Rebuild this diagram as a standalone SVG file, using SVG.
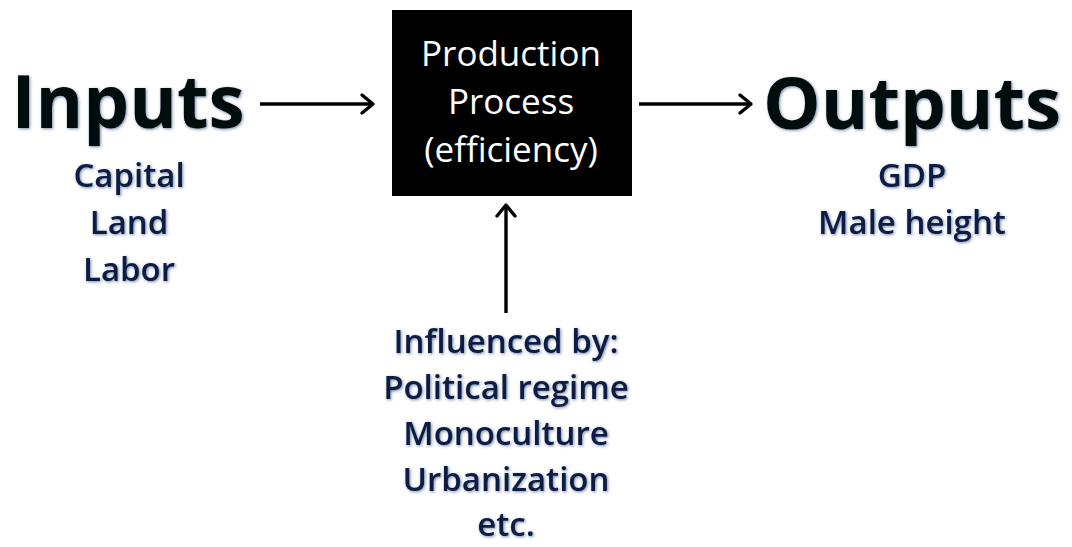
<svg xmlns="http://www.w3.org/2000/svg" width="1072" height="547" viewBox="0 0 1072 547">
  <defs>
    <filter id="glow" x="-10%" y="-20%" width="120%" height="140%">
      <feGaussianBlur in="SourceAlpha" stdDeviation="1.4" result="b"/>
      <feFlood flood-color="#1f3864" flood-opacity="0.6"/>
      <feComposite in2="b" operator="in" result="s"/>
      <feOffset dx="1" dy="1" result="o"/>
      <feMerge><feMergeNode in="o"/><feMergeNode in="SourceGraphic"/></feMerge>
    </filter>
    <marker id="arrow" markerUnits="userSpaceOnUse" markerWidth="20" markerHeight="24" refX="14" refY="12" orient="auto">
      <path d="M3,3 L14,12 L3,21" fill="none" stroke="#000" stroke-width="3.4" stroke-linecap="round" stroke-linejoin="round"/>
    </marker>
  </defs>
  <style>
    .big { font-family: "Open Sans", "Liberation Sans", sans-serif; font-weight: 700; fill: #05070f; text-anchor: middle; }
    .sub { font-family: "Open Sans", "Liberation Sans", sans-serif; font-weight: 600; font-size: 33px; fill: #0e1d44; text-anchor: middle; }
    .box { font-family: "Open Sans", "Liberation Sans", sans-serif; font-weight: 400; font-size: 35px; fill: #ffffff; text-anchor: middle; }
    .conn { fill: none; stroke: #000; stroke-width: 3.4; }
  </style>
  <rect width="1072" height="547" fill="#ffffff"/>

  <g id="inputs" filter="url(#glow)">
    <text class="big" x="128" y="128" font-size="74" textLength="233" lengthAdjust="spacingAndGlyphs">Inputs</text>
    <text class="sub" x="129" y="187">Capital</text>
    <text class="sub" x="129" y="234">Land</text>
    <text class="sub" x="129" y="281">Labor</text>
  </g>

  <g id="process">
    <rect x="392" y="10" width="240" height="186" fill="#000000"/>
    <text class="box" x="511" y="66">Production</text>
    <text class="box" x="511" y="114">Process</text>
    <text class="box" x="511" y="162">(efficiency)</text>
  </g>

  <g id="outputs" filter="url(#glow)">
    <text class="big" x="912" y="129" font-size="72" textLength="298" lengthAdjust="spacingAndGlyphs">Outputs</text>
    <text class="sub" x="912" y="187">GDP</text>
    <text class="sub" x="912" y="234">Male height</text>
  </g>

  <g id="influences" filter="url(#glow)">
    <text class="sub" x="506" y="353" font-weight="700">Influenced by:</text>
    <text class="sub" x="506" y="399">Political regime</text>
    <text class="sub" x="506" y="445">Monoculture</text>
    <text class="sub" x="506" y="491">Urbanization</text>
    <text class="sub" x="506" y="536">etc.</text>
  </g>

  <g id="connectors">
    <line class="conn" x1="260" y1="104" x2="373" y2="104" marker-end="url(#arrow)"/>
    <line class="conn" x1="639" y1="104" x2="751" y2="104" marker-end="url(#arrow)"/>
    <line class="conn" x1="506" y1="313" x2="506" y2="205" marker-end="url(#arrow)"/>
  </g>
</svg>
